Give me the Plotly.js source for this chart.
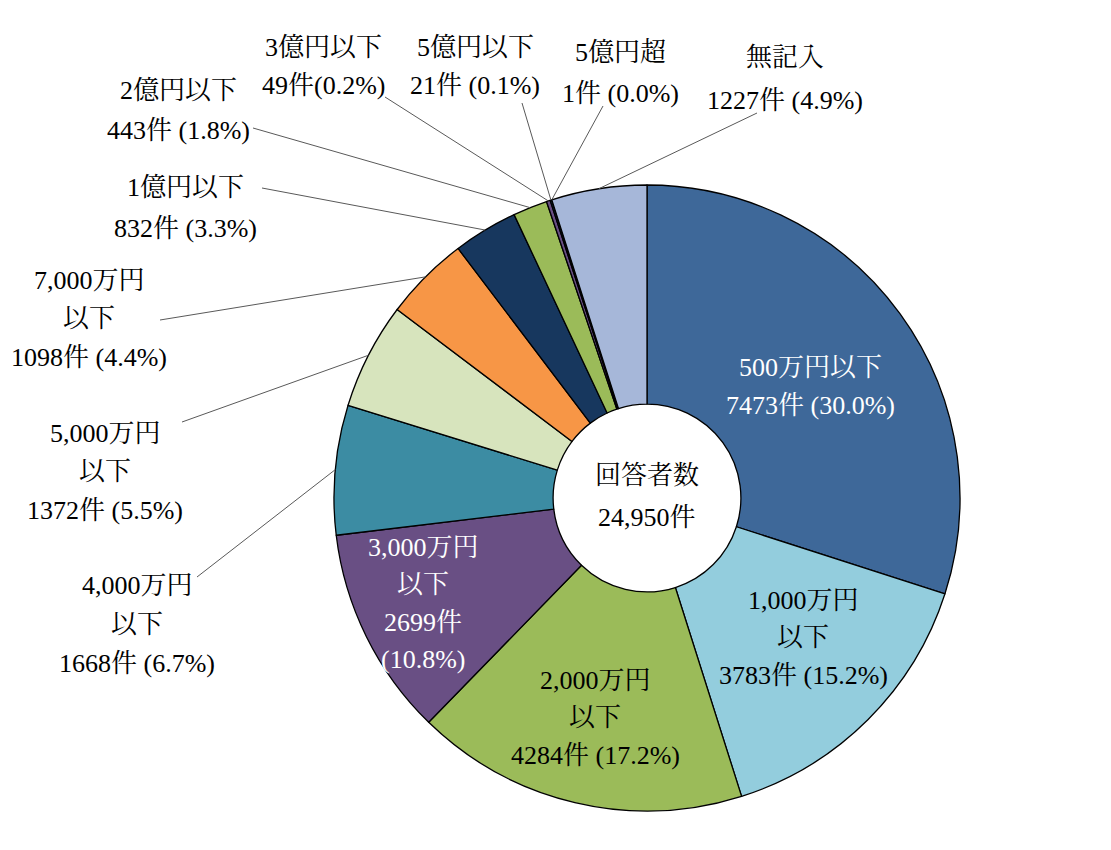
<!DOCTYPE html>
<html>
<head>
<meta charset="utf-8">
<script src="https://cdn.plot.ly/plotly-3.0.1.min.js"></script>
<style>html,body{margin:0;padding:0;background:#fff;}#chart{width:1111px;height:850px;}</style>
</head>
<body>
<div id="chart"></div>
<script>
// ---- data ----
const categories = ['500万円以下','1,000万円以下','2,000万円以下','3,000万円以下','4,000万円以下','5,000万円以下','7,000万円以下','1億円以下','2億円以下','3億円以下','5億円以下','5億円超','無記入'];
const counts = [7473, 3783, 4284, 2699, 1668, 1372, 1098, 832, 443, 49, 21, 1, 1227];
const colors = ['#3E6899','#93CDDD','#9BBB59','#694F84','#3C8CA3','#D7E4BD','#F79646','#17375E','#9BBB59','#694F84','#17375E','#93CDDD','#A6B7D9'];
const centerTitle = '回答者数';
const totalLabel = '24,950件';

// ---- layout constants (pixels) ----
const W = 1111, H = 850;
const CX = 647, CY = 498, R = 313;
const FONT = "'Liberation Serif', 'Noto Serif CJK JP', 'Noto Sans CJK JP', serif";
const FS = 26;

const total = counts.reduce((a, b) => a + b, 0);
const pct = counts.map(c => (c / total * 100).toFixed(1));

// label layout: name lines, count line style, position, colour, leader line start
const labelLayout = [
  {name: ['500万円以下'], cnt: 'one', x: 810, y: 367, dy: 38, color: '#fff'},
  {name: ['1,000万円', '以下'], cnt: 'one', x: 803, y: 600, dy: 37.5, color: '#000'},
  {name: ['2,000万円', '以下'], cnt: 'one', x: 595, y: 680, dy: 37.5, color: '#000'},
  {name: ['3,000万円', '以下'], cnt: 'two', x: 423, y: 547, dy: 37.5, color: '#fff'},
  {name: ['4,000万円', '以下'], cnt: 'one', x: 137, y: 585, dy: 39, color: '#000', lead: [197, 577]},
  {name: ['5,000万円', '以下'], cnt: 'one', x: 105, y: 433, dy: 38.5, color: '#000', lead: [182, 422]},
  {name: ['7,000万円', '以下'], cnt: 'one', x: 89, y: 280, dy: 38.5, color: '#000', lead: [160, 320]},
  {name: ['1億円以下'], cnt: 'one', x: 185, y: 187, dy: 41, color: '#000', lead: [262, 188]},
  {name: ['2億円以下'], cnt: 'one', x: 178, y: 90, dy: 40, color: '#000', lead: [253, 128]},
  {name: ['3億円以下'], cnt: 'tight', x: 323, y: 47, dy: 38, color: '#000', lead: [385, 97]},
  {name: ['5億円以下'], cnt: 'one', x: 475, y: 47, dy: 38, color: '#000', lead: [522, 103]},
  {name: ['5億円超'], cnt: 'one', x: 620, y: 52, dy: 41, color: '#000', lead: [603, 106]},
  {name: ['無記入'], cnt: 'one', x: 785, y: 57, dy: 43, color: '#000', lead: [757, 113]}
];

const annotations = [];
const shapes = [];
let cum = 0;
counts.forEach((c, i) => {
  const mid = (cum + c / 2) / total * 2 * Math.PI;
  cum += c;
  const L = labelLayout[i];
  let lines = L.name.slice();
  if (L.cnt === 'one') lines.push(`${c}件 (${pct[i]}%)`);
  else if (L.cnt === 'tight') lines.push(`${c}件(${pct[i]}%)`);
  else { lines.push(`${c}件`); lines.push(`(${pct[i]}%)`); }
  lines.forEach((t, k) => {
    annotations.push({
      x: L.x, y: L.y + k * L.dy, xref: 'x', yref: 'y', text: t, showarrow: false,
      xanchor: 'center', yanchor: 'middle',
      font: {family: FONT, size: FS, color: L.color}
    });
  });
  if (L.lead) {
    const ex = CX + R * Math.sin(mid), ey = CY - R * Math.cos(mid);
    shapes.push({type: 'line', xref: 'x', yref: 'y', x0: L.lead[0], y0: L.lead[1], x1: ex, y1: ey,
      line: {color: '#595959', width: 1}});
  }
});

annotations.push({x: CX, y: 475, xref: 'x', yref: 'y', text: centerTitle, showarrow: false,
  xanchor: 'center', yanchor: 'middle', font: {family: FONT, size: FS, color: '#000'}});
annotations.push({x: CX, y: 517, xref: 'x', yref: 'y', text: totalLabel, showarrow: false,
  xanchor: 'center', yanchor: 'middle', font: {family: FONT, size: FS, color: '#000'}});

const trace = {
  type: 'pie',
  labels: categories,
  values: counts,
  sort: false,
  direction: 'clockwise',
  rotation: 0,
  hole: 0.30,
  textinfo: 'none',
  hoverinfo: 'label+value+percent',
  marker: {colors: colors, line: {color: '#000', width: 1.3}},
  domain: {x: [(CX - R) / W, (CX + R) / W], y: [(H - CY - R) / H, (H - CY + R) / H]},
  showlegend: false
};

const layout = {
  width: W, height: H,
  margin: {l: 0, r: 0, t: 0, b: 0},
  paper_bgcolor: '#fff', plot_bgcolor: 'rgba(0,0,0,0)',
  xaxis: {range: [0, W], visible: false, fixedrange: true},
  yaxis: {range: [H, 0], visible: false, fixedrange: true},
  showlegend: false,
  annotations: annotations,
  shapes: shapes
};

Plotly.newPlot('chart', [trace], layout, {displayModeBar: false, staticPlot: true});
</script>
</body>
</html>
